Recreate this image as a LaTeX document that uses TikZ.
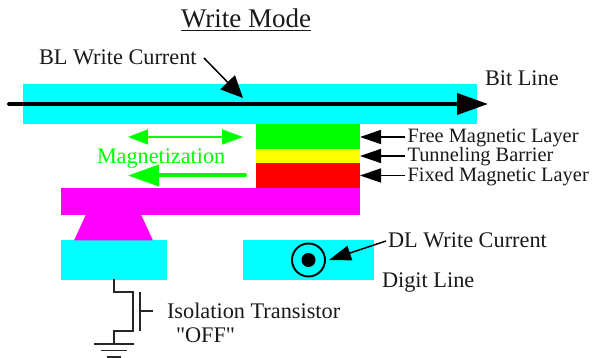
\documentclass[tikz,border=0pt]{standalone}
\usepackage{fontspec}
\setmainfont{Liberation Serif}
\newfontfamily\plainq{Liberation Serif}
\usetikzlibrary{arrows.meta,calc}
\definecolor{cy}{RGB}{0,255,255}
\definecolor{mg}{RGB}{255,0,255}
\definecolor{gr}{RGB}{0,255,0}
\definecolor{yl}{RGB}{255,255,0}
\definecolor{rd}{RGB}{255,0,0}
\tikzset{
  block/.style={anchor=north west,inner sep=0,outer sep=0,minimum width=#1},
  lab/.style={inner sep=0,outer sep=0,anchor=base west,text=black!90,font=\fontsize{22.3}{24}\selectfont},
  smalllab/.style={lab,font=\fontsize{20.4}{22}\selectfont},
  wire/.style={line width=1.5pt,draw=black!85},
  ptrb/.style={line width=1.5pt,draw=black,-{Triangle[length=21pt,width=14pt]}},
}
\begin{document}
\begin{tikzpicture}[x=1pt,y=-1pt]
\useasboundingbox (0,0) rectangle (592,358);
% blocks
\node[block=454.5pt,minimum height=39.5pt,fill=cy] (bit) at (22.5,84.5) {};
\node[block=104pt,minimum height=24.5pt,fill=gr] (free) at (256,124.5) {};
\node[block=104pt,minimum height=14pt,fill=yl] (barrier) at (256,149) {};
\node[block=104pt,minimum height=25pt,fill=rd] (fixed) at (256,163) {};
\node[block=299pt,minimum height=27pt,fill=mg] (strap) at (61,188) {};
\node[block=105.5pt,minimum height=40pt,fill=cy] (src) at (61,240) {};
\node[block=130.5pt,minimum height=40pt,fill=cy] (digit) at (243,240) {};
\fill[mg] (86,214.5) -- (141,214.5) -- (153,240.5) -- (74,240.5) -- cycle;
% texts
\node[lab,font=\fontsize{27}{29}\selectfont] (title) at (181,28) {\underline{Write Mode}};
\node[lab] (blc) at (39,65) {BL Write Current};
\node[lab] (bitlab) at (485,85.5) {Bit Line};
\node[smalllab] (lfree) at (407.5,142.5) {Free Magnetic Layer};
\node[smalllab] (lbar) at (407.5,162) {Tunneling Barrier};
\node[smalllab] (lfix) at (407.5,181.5) {Fixed Magnetic Layer};
\node[lab,text=gr,font=\fontsize{22.2}{24}\selectfont] (mag) at (97,164) {Magnetization};
\node[lab] (dlc) at (388,247.5) {DL Write Current};
\node[lab] (diglab) at (382,287.5) {Digit Line};
\node[lab] (iso) at (167,318) {Isolation Transistor};
\node[lab] (off) at (176,342) {\plainq "OFF"};
% current arrows
\coordinate (bs) at (9,104);
\coordinate (be) at (488,104);
\draw[line width=4pt,line cap=round,-{Triangle[length=31pt,width=21pt]}] (bs) -- (be);
\coordinate (bla) at (204,58);
\coordinate (blb) at (243,98);
\draw[line width=1.5pt,-{Triangle[length=22pt,width=20pt]}] (bla) -- (blb);
% magnetization arrows
\coordinate (ma) at (128,137);
\coordinate (mb) at (243,137);
\draw[gr,line width=1.6pt,{Triangle[length=20pt,width=15pt]}-{Triangle[length=21pt,width=15pt]}] (ma) -- (mb);
\coordinate (mc) at (245,175.5);
\coordinate (md) at (128,175.5);
\draw[gr,line width=4pt,line cap=round,-{Triangle[length=31pt,width=21pt]}] (mc) -- (md);
% layer pointers
\coordinate (pfree) at (405,137);
\coordinate (pbar) at (405,156);
\coordinate (pfix) at (405,175.5);
\draw[ptrb] (pfree) -- (pfree -| free.east);
\draw[ptrb] (pbar) -- (pbar -| barrier.east);
\draw[ptrb] (pfix) -- (pfix -| fixed.east);
% digit current
\coordinate (dc) at (308.5,260);
\draw[line width=1.9pt] (dc) circle (16.5);
\fill (dc) circle (7);
\coordinate (da) at (386,241);
\coordinate (db) at (329,260);
\draw[line width=1.5pt,-{Triangle[length=22pt,width=15pt]}] (da) -- (db);
% transistor
\coordinate (t1) at (114,279.5);
\coordinate (t2) at (114,344);
\coordinate (gt) at (140,292);
\coordinate (gb) at (140,331);
\coordinate (gm) at (140,311);
\coordinate (gl) at (153,311);
\draw[wire] (t1) -- (114,292) -- (133,292) -- (133,331) -- (114,331) -- (t2);
\draw[wire] (gt) -- (gb);
\draw[wire] (gm) -- (gl);
\coordinate (g1l) at (94,344); \coordinate (g1r) at (134,344);
\coordinate (g2l) at (101,350.5); \coordinate (g2r) at (127,350.5);
\coordinate (g3l) at (107,357); \coordinate (g3r) at (121,357);
\draw[wire] (g1l) -- (g1r);
\draw[wire] (g2l) -- (g2r);
\draw[wire] (g3l) -- (g3r);
\end{tikzpicture}
\end{document}
